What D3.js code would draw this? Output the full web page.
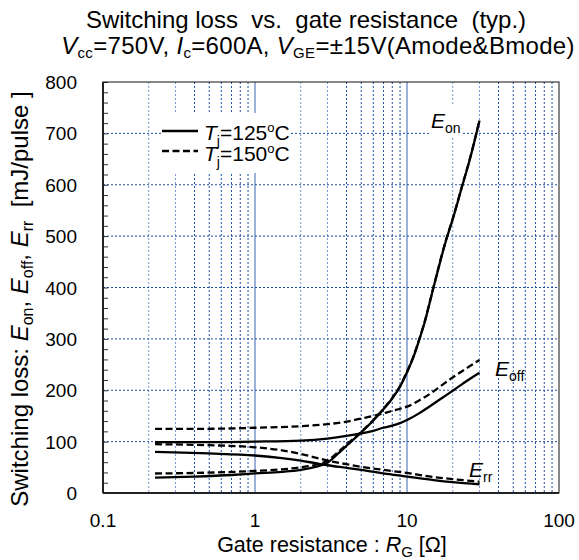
<!DOCTYPE html>
<html><head><meta charset="utf-8">
<script src="https://cdn.jsdelivr.net/npm/d3@7"></script>
<style>body{margin:0;background:#fff}svg{font-family:"Liberation Sans",Arial,sans-serif}</style>
</head><body><svg id="c" width="579" height="560"></svg>
<script>
const yTicks = [0,100,200,300,400,500,600,700,800];
const xTicks = [0.1,1,10,100];
const xTickLabels = ["0.1","1","10","100"];
const eonR125 = [0.22,0.4,0.7,1,1.5,2,2.5,3,3.5,4,5,6,7,8,9,10,11,12,13,15,18,20,23,26,30];
const eonE125 = [30,32,35,38,41,45,51,59,76,92,118,141,163,184,207,235,264,297,330,402,490,533,596,651,725];
const eonR150 = [0.22,0.4,0.7,1,1.5,2,2.5,3,3.5,4,5,6,7,8,9,10,11,12,13,15,18,20,23,26,30];
const eonE150 = [38,39,41,43,46,50,55,63,79,94,119,142,164,185,208,236,265,298,331,403,491,534,597,652,726];
const eoffR125 = [0.22,0.5,1,2,3,4,5,6,7,8,9,10,12,14,17,20,25,30];
const eoffE125 = [99,99,100,102,106,111,116,121,127,131,136,142,155,168,185,199,219,234];
const eoffR150 = [0.22,0.5,1,2,3,4,5,6,7,8,9,10,12,14,17,20,25,30];
const eoffE150 = [125,125,127,130,134,139,145,150,155,160,164,168,180,192,210,225,244,259];
const errR125 = [0.22,0.5,1,1.5,2,2.5,3,4,5,7,10,15,20,30];
const errE125 = [80,77,73,68,63,58,54,49,45,38,32,25,21,17];
const errR150 = [0.22,0.5,1,1.5,2,2.5,3,4,5,7,10,15,20,30];
const errE150 = [95,93,89,83,76,69,63,56,51,45,39,31,27,22];

const svg = d3.select("#c");
const L=103,R=559,T=82,B=493;
const x = d3.scaleLog().domain([0.1,100]).range([L,R]);
const y = d3.scaleLinear().domain([0,800]).range([B,T]);
const gridC = "#1f4fa3";

// minor vertical grid
const minors = [];
for (const d of [0.1,1,10]) for (let k=2;k<=9;k++) minors.push(d*k);
svg.append("g").selectAll("line").data(minors).join("line")
  .attr("x1",d=>x(d)).attr("x2",d=>x(d)).attr("y1",T).attr("y2",B)
  .attr("stroke",d=>{const k=Math.round(d/Math.pow(10,Math.floor(Math.log10(d)+1e-9)));return (k===2||k===3)?"#7a98d6":gridC;})
  .attr("stroke-width",1).attr("stroke-dasharray","2,2");
// major vertical
svg.append("g").selectAll("line").data([1,10]).join("line")
  .attr("x1",d=>x(d)).attr("x2",d=>x(d)).attr("y1",T).attr("y2",B)
  .attr("stroke","#3a64b0").attr("stroke-width",1);
// horizontal grid
svg.append("g").selectAll("line").data(yTicks.slice(1,-1)).join("line")
  .attr("x1",L).attr("x2",R).attr("y1",d=>y(d)).attr("y2",d=>y(d))
  .attr("stroke",gridC).attr("stroke-width",1).attr("stroke-dasharray","2,2");

// white boxes behind labels
svg.append("rect").attr("x",162).attr("y",113).attr("width",128).attr("height",60).attr("fill","#fff");
svg.append("rect").attr("x",430).attr("y",106).attr("width",33).attr("height",30).attr("fill","#fff");

// y axis ticks inward
const yAxis = d3.axisRight(y).tickValues(d3.range(0,801,20)).tickSize(5).tickFormat("");
const ya = svg.append("g").attr("transform",`translate(${L},0)`).call(yAxis);
ya.select(".domain").remove();
ya.selectAll("line").attr("stroke","#333").attr("stroke-width",1);

// frame
svg.append("rect").attr("x",L).attr("y",T).attr("width",R-L).attr("height",B-T)
  .attr("fill","none").attr("stroke","#111").attr("stroke-width",1);
svg.append("line").attr("x1",L).attr("x2",L).attr("y1",T).attr("y2",B).attr("stroke","#222").attr("stroke-width",2);
svg.append("line").attr("x1",L).attr("x2",R).attr("y1",B).attr("y2",B).attr("stroke","#222").attr("stroke-width",2);

// tick labels
svg.append("g").selectAll("text").data(yTicks).join("text")
  .attr("x",77).attr("y",d=>y(d)+7).attr("text-anchor","end").attr("font-size",19).text(d=>d);
svg.append("g").selectAll("text").data(xTicks).join("text")
  .attr("x",d=>x(d)).attr("y",527).attr("text-anchor","middle").attr("font-size",19).text((d,i)=>xTickLabels[i]);

// curves
const line = d3.line().x(d=>x(d[0])).y(d=>y(d[1])).curve(d3.curveMonotoneX);
const series = [
  [eonR125,eonE125,false],[eonR150,eonE150,true],
  [eoffR125,eoffE125,false],[eoffR150,eoffE150,true],
  [errR125,errE125,false],[errR150,errE150,true]];
for (const [rs,es,dash] of series) {
  svg.append("path").datum(rs.map((r,i)=>[r,es[i]])).attr("d",line)
    .attr("fill","none").attr("stroke","#000").attr("stroke-width",2.3)
    .attr("stroke-dasharray",dash?"7,3.5":null);
}

// legend
svg.append("line").attr("x1",162).attr("x2",198).attr("y1",131).attr("y2",131).attr("stroke","#000").attr("stroke-width",2.3);
svg.append("line").attr("x1",162).attr("x2",198).attr("y1",151).attr("y2",151).attr("stroke","#000").attr("stroke-width",2.3).attr("stroke-dasharray","7,3.5");
function tj(yy,val){
  const t=svg.append("text").attr("x",204).attr("y",yy).attr("font-size",21);
  t.append("tspan").attr("font-style","italic").text("T");
  t.append("tspan").attr("font-size",14).attr("dy",6).text("j");
  t.append("tspan").attr("dy",-6).text("="+val);
  t.append("tspan").attr("font-size",13).attr("dy",-8).text("o");
  t.append("tspan").attr("dy",8).text("C");
}
tj(140,"125");tj(161,"150");

// curve labels
function elab(xx,yy,sub){
  const t=svg.append("text").attr("x",xx).attr("y",yy).attr("font-size",21);
  t.append("tspan").attr("font-style","italic").text("E");
  t.append("tspan").attr("font-size",14).attr("dy",5).text(sub);
}
elab(431,128,"on");elab(495,376,"off");elab(469,477,"rr");

function part(t,txt,opt){const s=t.append("tspan").text(txt);if(opt)for(const k in opt)s.attr(k,opt[k]);return s;}
// title
svg.append("text").attr("x",306).attr("y",28).attr("text-anchor","middle").attr("font-size",24)
  .style("white-space","pre").text("Switching loss  vs.  gate resistance  (typ.)");
const t2=svg.append("text").attr("x",318).attr("y",54).attr("text-anchor","middle").attr("font-size",24).attr("letter-spacing",0.3);
part(t2,"V",{"font-style":"italic"});
part(t2,"cc",{"font-size":15,dy:4});
part(t2,"=750V, ",{dy:-4});
part(t2,"I",{"font-style":"italic"});
part(t2,"c",{"font-size":15,dy:4});
part(t2,"=600A, ",{dy:-4});
part(t2,"V",{"font-style":"italic"});
part(t2,"GE",{"font-size":15,dy:4});
part(t2,"=±15V(Amode&Bmode)",{dy:-4});

// x title
const xt=svg.append("text").attr("x",332).attr("y",552).attr("text-anchor","middle").attr("font-size",21.5);
part(xt,"Gate resistance : ");
part(xt,"R",{"font-style":"italic"});
part(xt,"G",{"font-size":15,dy:5});
part(xt," [Ω]",{dy:-5});

// y title
const yt=svg.append("text").attr("transform","translate(28,299) rotate(-90)").attr("text-anchor","middle").attr("font-size",24).style("white-space","pre");
part(yt,"Switching loss: ");
part(yt,"E",{"font-style":"italic"});
part(yt,"on",{"font-size":16,dy:5});
part(yt,", ",{dy:-5});
part(yt,"E",{"font-style":"italic"});
part(yt,"off",{"font-size":16,dy:5});
part(yt,", ",{dy:-5});
part(yt,"E",{"font-style":"italic"});
part(yt,"rr",{"font-size":16,dy:5});
part(yt,"  [mJ/pulse ]",{dy:-5});
</script></body></html>
